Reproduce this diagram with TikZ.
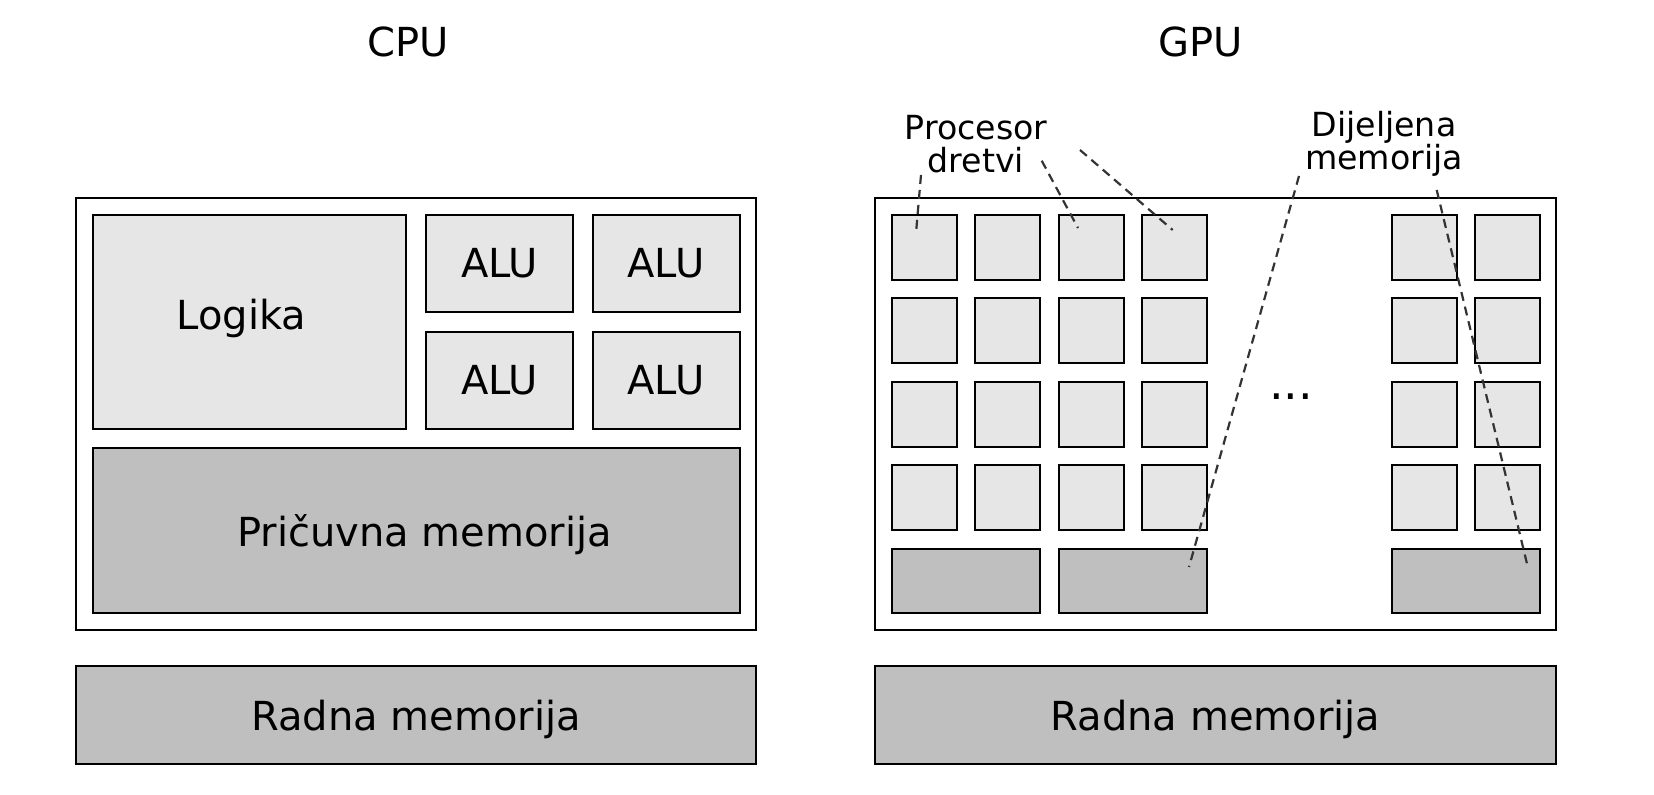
\documentclass[tikz,border=0pt]{standalone}
\usepackage{fontspec}
\setmainfont{DejaVu Sans}
\usetikzlibrary{positioning}
\definecolor{unitgray}{HTML}{E6E6E6}
\definecolor{memgray}{HTML}{BFBFBF}
\tikzset{chip/.style={rectangle,draw,line width=0.8pt,fill=white,inner sep=0pt},
         unit/.style={rectangle,draw,line width=1pt,fill=unitgray,inner sep=0pt,font=\fontsize{20}{24}\selectfont},
         mem/.style={rectangle,draw,line width=1pt,fill=memgray,inner sep=0pt,text depth=0pt,font=\fontsize{20}{24}\selectfont},
         core/.style={unit,minimum width=32.5pt,minimum height=32.5pt},
         title/.style={font=\fontsize{20}{24}\selectfont},
         note/.style={align=center,font=\fontsize{16.6}{16.4}\selectfont,inner sep=0pt},
         pointer/.style={draw=black!80,line width=1.1pt,dash pattern=on 4.5pt off 3pt},
}
\begin{document}
\begin{tikzpicture}[x=0.5pt,y=-0.5pt]
\useasboundingbox (0,0) rectangle (1654,795);
% CPU
\node[title] (cputitle) at (408,42) {CPU};
\node[chip,minimum width=340pt,minimum height=216pt] (cpu) at (416,414) {};
\node[unit,minimum width=156.5pt,minimum height=107pt,
      label={[font=\fontsize{20}{24}\selectfont,xshift=-4pt,yshift=2pt]center:Logika}] (logic) at (249.5,322) {};
\node[unit,minimum width=73.5pt,minimum height=48.5pt] (alu1) at (499.5,263.5) {ALU};
\node[unit,minimum width=73.5pt,minimum height=48.5pt] (alu2) at (666,263.5) {ALU};
\node[unit,minimum width=73.5pt,minimum height=48.5pt] (alu3) at (499.5,380.5) {ALU};
\node[unit,minimum width=73.5pt,minimum height=48.5pt] (alu4) at (666,380.5) {ALU};
\node[mem,minimum width=323.5pt,minimum height=82.5pt] (cache) at (416.5,530.5) {\hspace*{8pt}Pričuvna memorija};
\node[mem,minimum width=340pt,minimum height=49pt] (cpuram) at (416,715) {Radna memorija};
% GPU
\node[title] (gputitle) at (1201,42) {GPU};
\node[chip,minimum width=340.5pt,minimum height=216pt] (gpu) at (1215.5,414) {};
\foreach \c/\x in {1/924.5,2/1007.8,3/1091.2,4/1174.5,5/1424.5,6/1507.8}
  \foreach \r/\y in {1/247.5,2/330.8,3/414.2,4/497.5}
    \node[core] (s-\r-\c) at (\x,\y) {};
\foreach \i/\x in {1/966.2,2/1132.8,3/1466.2}
  \node[mem,minimum width=74pt,minimum height=32pt] (shm\i) at (\x,581) {};
\node[font=\fontsize{23}{26}\selectfont] (dots) at (1291,397) {...};
\node[mem,minimum width=340.5pt,minimum height=49pt] (gpuram) at (1215.5,715) {Radna memorija};
\node[note] (proc) at (976,144) {Procesor\\dretvi};
\node[note] (shared) at (1384,144) {Dijeljena\\memorija};
\draw[pointer] ([shift={(-55,31)}]proc.center) -- ([shift={(-8.5,-14.5)}]s-1-1.center);
\draw[pointer] ([shift={(65.7,16.7)}]proc.center) -- ([shift={(-13.2,-19.5)}]s-1-3.center);
\draw[pointer] ([shift={(104,6)}]proc.center) -- ([shift={(-1.8,-17.5)}]s-1-4.center);
\draw[pointer] ([shift={(-85,32)}]shared.center) -- ([shift={(56.2,-14)}]shm2.center);
\draw[pointer] ([shift={(52.7,46)}]shared.center) -- ([shift={(61.5,-14.3)}]shm3.center);
\end{tikzpicture}
\end{document}
